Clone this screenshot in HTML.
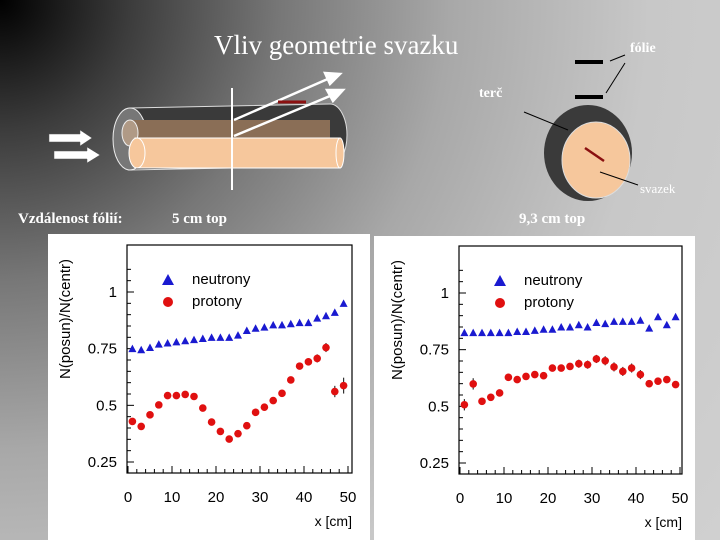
<!DOCTYPE html>
<html><head><meta charset="utf-8"><style>
html,body{margin:0;padding:0}
body{width:720px;height:540px;overflow:hidden;position:relative;font-family:"Liberation Serif",serif;
background:radial-gradient(circle at 0 0,#000 0px,#3c3c3c 130px,#777 280px,#a8a8a8 450px,#c8c8c8 650px,#d0d0d0 900px);}
.t{position:absolute;color:#fff;white-space:nowrap}
.panel{position:absolute;background:#fff}
</style></head><body>
<div class="t" style="left:214px;top:30px;font-size:27px">Vliv geometrie svazku</div>
<svg width="720" height="230" style="position:absolute;left:0;top:0">
 <g fill="#fff" stroke="#555" stroke-width="0.5">
  <polygon points="49,134 80,134 80,130 92,138 80,146 80,142 49,142"/>
  <polygon points="54,151 87,151 87,147 100,155 87,163 87,159 54,159"/>
 </g>
 <path d="M130,108 L330,104 A17,31 0 0 1 330,166 L130,170 Z" fill="#3a3a3a" stroke="#ddd"/>
 <ellipse cx="130" cy="139" rx="17" ry="31" fill="#777" stroke="#eee"/>
 <rect x="130" y="120" width="200" height="26" fill="#8a6e56"/>
 <ellipse cx="130" cy="133" rx="8" ry="13" fill="#b09a86" stroke="#eee"/>
 <rect x="135" y="138" width="205" height="30" fill="#f6c79c" stroke="#fff"/>
 <ellipse cx="137" cy="153" rx="8" ry="15" fill="#f6c79c" stroke="#fff"/>
 <ellipse cx="340" cy="153" rx="4" ry="15" fill="#f6c79c" stroke="#fff"/>
 <line x1="232" y1="88" x2="232" y2="190" stroke="#fff" stroke-width="2"/>
 <g stroke="#fff" stroke-width="2.5" fill="#fff">
  <line x1="234" y1="120" x2="330" y2="78"/><polygon points="340,74 325,73 330,84"/>
  <line x1="234" y1="136" x2="330" y2="96"/><polygon points="343,90 327,90 333,101"/>
 </g>
 <line x1="278" y1="102" x2="306" y2="102" stroke="#8b1010" stroke-width="3"/>
 <rect x="575" y="60" width="28" height="4" fill="#000"/>
 <rect x="575" y="95" width="28" height="4" fill="#000"/>
 <line x1="610" y1="61" x2="625" y2="55" stroke="#000"/>
 <line x1="606" y1="93" x2="625" y2="63" stroke="#000"/>
 <ellipse cx="588" cy="153" rx="44" ry="48" fill="#3a3a3a"/>
 <ellipse cx="596" cy="160" rx="34" ry="38" fill="#f6c79c" stroke="#ddd"/>
 <line x1="585" y1="148" x2="604" y2="161" stroke="#8b1010" stroke-width="2.5"/>
 <line x1="524" y1="112" x2="568" y2="130" stroke="#000"/>
 <line x1="600" y1="172" x2="638" y2="185" stroke="#000"/>
</svg>
<div class="t" style="left:630px;top:41px;font-size:14px;font-weight:bold">fólie</div>
<div class="t" style="left:479px;top:86px;font-size:14px;font-weight:bold">terč</div>
<div class="t" style="left:640px;top:181px;font-size:13px">svazek</div>
<div class="t" style="left:18px;top:211px;font-size:15px;font-weight:bold">Vzdálenost fólií:</div>
<div class="t" style="left:172px;top:211px;font-size:15px;font-weight:bold">5 cm top</div>
<div class="t" style="left:519px;top:211px;font-size:15px;font-weight:bold">9,3 cm top</div>
<div class="panel" style="left:48px;top:234px;width:322px;height:306px"></div>
<div class="panel" style="left:374px;top:236px;width:321px;height:304px"></div>
<svg id="charts" width="720" height="540" style="position:absolute;left:0;top:0" font-family="'Liberation Sans',sans-serif"></svg>
<script>
const xCats=[1,3,5,7,9,11,13,15,17,19,21,23,25,27,29,31,33,35,37,39,41,43,45,47,49];
const xTicks=[0,10,20,30,40,50];
const yTicks=[0.25,0.5,0.75,1];
const yTickLabels=["0.25","0.5","0.75","1"];
const leftNeutrons=[0.75,0.745,0.755,0.77,0.775,0.78,0.785,0.79,0.795,0.80,0.80,0.80,0.81,0.83,0.84,0.845,0.855,0.855,0.86,0.865,0.865,0.885,0.895,0.91,0.95];
const leftProtons=[0.429,0.407,0.458,0.502,0.543,0.543,0.548,0.539,0.488,0.426,0.385,0.351,0.375,0.41,0.469,0.492,0.521,0.553,0.612,0.673,0.692,0.707,0.755,0.561,0.587];
const leftProtonErr=[0.01,0.01,0.01,0.01,0.01,0.01,0.01,0.01,0.01,0.01,0.01,0.01,0.01,0.01,0.01,0.01,0.01,0.012,0.012,0.015,0.015,0.018,0.02,0.025,0.035];
const rightNeutrons=[0.825,0.825,0.825,0.825,0.825,0.825,0.83,0.83,0.835,0.84,0.84,0.85,0.85,0.86,0.85,0.87,0.865,0.875,0.875,0.875,0.88,0.845,0.895,0.86,0.895];
const rightProtons=[0.507,0.599,0.522,0.54,0.559,0.628,0.618,0.632,0.64,0.635,0.669,0.669,0.676,0.688,0.684,0.709,0.701,0.674,0.654,0.669,0.64,0.6,0.611,0.618,0.596];
const rightProtonErr=[0.025,0.025,0.015,0.015,0.015,0.015,0.012,0.012,0.012,0.012,0.015,0.015,0.015,0.018,0.018,0.018,0.02,0.02,0.02,0.02,0.02,0.015,0.015,0.015,0.015];

const NS="http://www.w3.org/2000/svg";
const root=document.getElementById('charts');
function mk(tag,at,parent){const e=document.createElementNS(NS,tag);for(const k in at)e.setAttribute(k,at[k]);(parent||root).appendChild(e);return e;}

function chart(cfg,neu,pro,err,prefix){
  const g=mk('g',{});
  
  
  const X=v=>cfg.x0+(v/50)*(cfg.x50-cfg.x0);
  const Y=v=>cfg.y1+(1-v)/0.75*(cfg.y025-cfg.y1);
  const fr=mk('rect',{x:cfg.fl,y:cfg.ft,width:cfg.fr-cfg.fl,height:cfg.fb-cfg.ft,fill:'none',stroke:'#000','stroke-width':1.2},g);
  
  
  for(let v=0;v<=50;v+=2){const x=X(v);const L=v%10==0?7:4;mk('line',{x1:x,x2:x,y1:cfg.fb,y2:cfg.fb-L,stroke:'#000'},g);}
  for(let v=0.25;v<=1.15;v+=0.05){const y=Y(v);if(y<cfg.ft)continue;const L=Math.abs((v*4)-Math.round(v*4))<1e-6?7:4;mk('line',{x1:cfg.fl,x2:cfg.fl+L,y1:y,y2:y,stroke:'#000'},g);}
  xTicks.forEach(t=>{const e=mk('text',{x:X(t),y:cfg.fb+29,'font-size':15,'text-anchor':'middle',fill:'#000'},g);e.textContent=t;
    
    });
  yTicks.forEach((t,i)=>{const e=mk('text',{x:cfg.fl-10,y:Y(t)+5,'font-size':15,'text-anchor':'end',fill:'#000'},g);e.textContent=yTickLabels[i];
    
    });
  const xt=mk('text',{x:cfg.fr,y:cfg.fb+53,'font-size':14,'text-anchor':'end',fill:'#000'},g);xt.textContent='x [cm]';
  
  
  const yt=mk('text',{x:0,y:0,'font-size':15,'text-anchor':'middle',fill:'#000',transform:`translate(${cfg.fl-57},${(cfg.ft+cfg.fb)/2-40}) rotate(-90)`},g);yt.textContent='N(posun)/N(centr)';
  
  
  const lx=cfg.fl+41;
  const lt=mk('polygon',{points:`${lx-6},${cfg.ft+40} ${lx+6},${cfg.ft+40} ${lx},${cfg.ft+29}`,fill:'#1a1ad0'},g);
  
  
  const lte=mk('text',{x:lx+24,y:cfg.ft+39,'font-size':15,fill:'#000'},g);lte.textContent='neutrony';
  
  
  const lc=mk('circle',{cx:lx,cy:cfg.ft+57,r:5,fill:'#e01010'},g);
  
  
  const lce=mk('text',{x:lx+24,y:cfg.ft+61,'font-size':15,fill:'#000'},g);lce.textContent='protony';
  
  
  xCats.forEach((c,i)=>{
    const x=X(c),y=Y(neu[i]);
    const p=mk('polygon',{points:`${x-4},${y+3.5} ${x+4},${y+3.5} ${x},${y-4}`,fill:'#1a1ad0'},g);
    
    
    const yp=Y(pro[i]);
    const el=mk('line',{x1:x,x2:x,y1:Y(pro[i]+err[i]),y2:Y(pro[i]-err[i]),stroke:'#333','stroke-width':1.2},g);
    
    
    const cc=mk('circle',{cx:x,cy:yp,r:3.8,fill:'#e01010'},g);
    
    
  });
}
chart({fl:127,fr:352,ft:245,fb:473,x0:128,x50:348,y1:292,y025:462},leftNeutrons,leftProtons,leftProtonErr,'left');
chart({fl:459,fr:682,ft:246,fb:474,x0:460,x50:680,y1:293,y025:463},rightNeutrons,rightProtons,rightProtonErr,'right');
</script>
</body></html>
